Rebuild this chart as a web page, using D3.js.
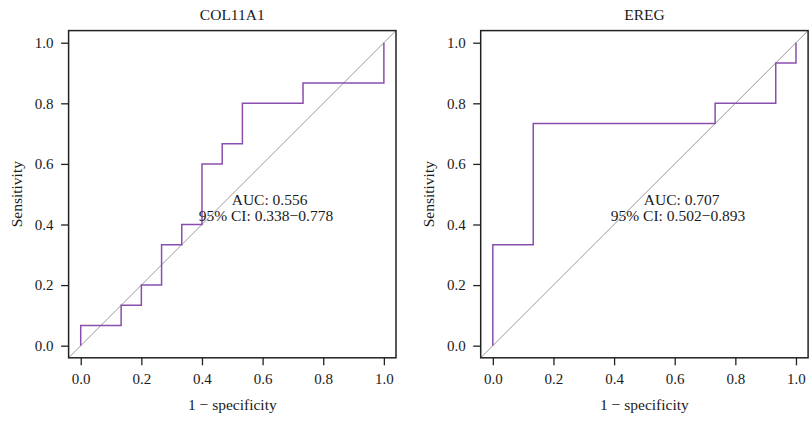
<!DOCTYPE html>
<html>
<head>
<meta charset="utf-8">
<script src="https://cdn.jsdelivr.net/npm/d3@7"></script>
<style>
  html, body { margin: 0; padding: 0; background: #fff; }
  svg text { font-family: "Liberation Serif", "DejaVu Serif", serif; fill: #1a1a1a; }
</style>
</head>
<body>
<svg id="chart" width="809" height="421"></svg>
<script>
// ---- Data ----
const titles = ["COL11A1", "EREG"];
const tickValues = [0.0, 0.2, 0.4, 0.6, 0.8, 1.0];
const xLabel = "1 \u2212 specificity";
const yLabel = "Sensitivity";

// ROC vertices (1 - specificity, sensitivity)
const col11a1FPR = [0, 0, 0.1333, 0.1333, 0.2, 0.2, 0.2667, 0.2667, 0.3333, 0.3333, 0.4, 0.4, 0.4667, 0.4667, 0.5333, 0.5333, 0.7333, 0.7333, 1.0, 1.0];
const col11a1TPR = [0, 0.0667, 0.0667, 0.1333, 0.1333, 0.2, 0.2, 0.3333, 0.3333, 0.4, 0.4, 0.6, 0.6, 0.6667, 0.6667, 0.8, 0.8, 0.8667, 0.8667, 1.0];
const eregFPR = [0, 0, 0.1333, 0.1333, 0.7333, 0.7333, 0.9333, 0.9333, 1.0, 1.0];
const eregTPR = [0, 0.3333, 0.3333, 0.7333, 0.7333, 0.8, 0.8, 0.9333, 0.9333, 1.0];

const aucLabels = ["AUC: 0.556", "AUC: 0.707"];
const ciLabels = ["95% CI: 0.338\u22120.778", "95% CI: 0.502\u22120.893"];

// ---- Layout ----
const svg = d3.select("#chart");
const panelOffsets = [0, 412.1];
const boxLeft = 68.6, boxRight = 396.0, boxTop = 30.6, boxBottom = 357.8;
const lineColor = "#8a4fae";

const rocX = [col11a1FPR, eregFPR];
const rocY = [col11a1TPR, eregTPR];

titles.forEach((title, i) => {
  const g = svg.append("g").attr("transform", `translate(${panelOffsets[i]},0)`);
  const x = d3.scaleLinear().domain([-0.04, 1.04]).range([boxLeft, boxRight]);
  const y = d3.scaleLinear().domain([-0.04, 1.04]).range([boxBottom, boxTop]);

  // diagonal reference
  g.append("line")
    .attr("x1", x(-0.04)).attr("y1", y(-0.04))
    .attr("x2", x(1.04)).attr("y2", y(1.04))
    .attr("stroke", "#999").attr("stroke-width", 1);

  // ROC curve
  const pts = rocX[i].map((v, k) => [v, rocY[i][k]]);
  g.append("path")
    .datum(pts)
    .attr("d", d3.line().x(d => x(d[0])).y(d => y(d[1])))
    .attr("fill", "none")
    .attr("stroke", lineColor)
    .attr("stroke-width", 1.5);

  // box
  g.append("rect")
    .attr("x", boxLeft).attr("y", boxTop)
    .attr("width", boxRight - boxLeft).attr("height", boxBottom - boxTop)
    .attr("fill", "none").attr("stroke", "#222").attr("stroke-width", 1.5);

  // axes
  const ax = g.append("g").attr("transform", `translate(0,${boxBottom})`)
    .call(d3.axisBottom(x).tickValues(tickValues).tickFormat(d3.format(".1f"))
      .tickSize(7.5).tickSizeOuter(0).tickPadding(8.5));
  const ay = g.append("g").attr("transform", `translate(${boxLeft},0)`)
    .call(d3.axisLeft(y).tickValues(tickValues).tickFormat(d3.format(".1f"))
      .tickSize(7.5).tickSizeOuter(0).tickPadding(7.5));
  [ax, ay].forEach(a => {
    a.select(".domain").remove();
    a.selectAll(".tick line").attr("stroke", "#222").attr("stroke-width", 1.3);
    a.selectAll(".tick text").attr("font-size", "15px").style("font-family", '"Liberation Serif", serif').attr("fill", "#1a1a1a");
  });

  // title
  g.append("text")
    .attr("x", (boxLeft + boxRight) / 2).attr("y", 19.5)
    .attr("text-anchor", "middle").attr("font-size", "15.5px")
    .text(title);

  // x label
  g.append("text")
    .attr("x", (boxLeft + boxRight) / 2).attr("y", 409.5)
    .attr("text-anchor", "middle").attr("font-size", "15.5px")
    .text(xLabel);

  // y label
  g.append("text")
    .attr("transform", `translate(21.7,${(boxTop + boxBottom) / 2}) rotate(-90)`)
    .attr("text-anchor", "middle").attr("font-size", "15.5px")
    .text(yLabel);

  // AUC annotation
  g.append("text")
    .attr("x", x(0.623)).attr("y", 204.5)
    .attr("text-anchor", "middle").attr("font-size", "15.5px")
    .text(aucLabels[i]);
  g.append("text")
    .attr("x", x(0.611)).attr("y", 221)
    .attr("text-anchor", "middle").attr("font-size", "15.5px")
    .text(ciLabels[i]);
});
</script>
</body>
</html>
